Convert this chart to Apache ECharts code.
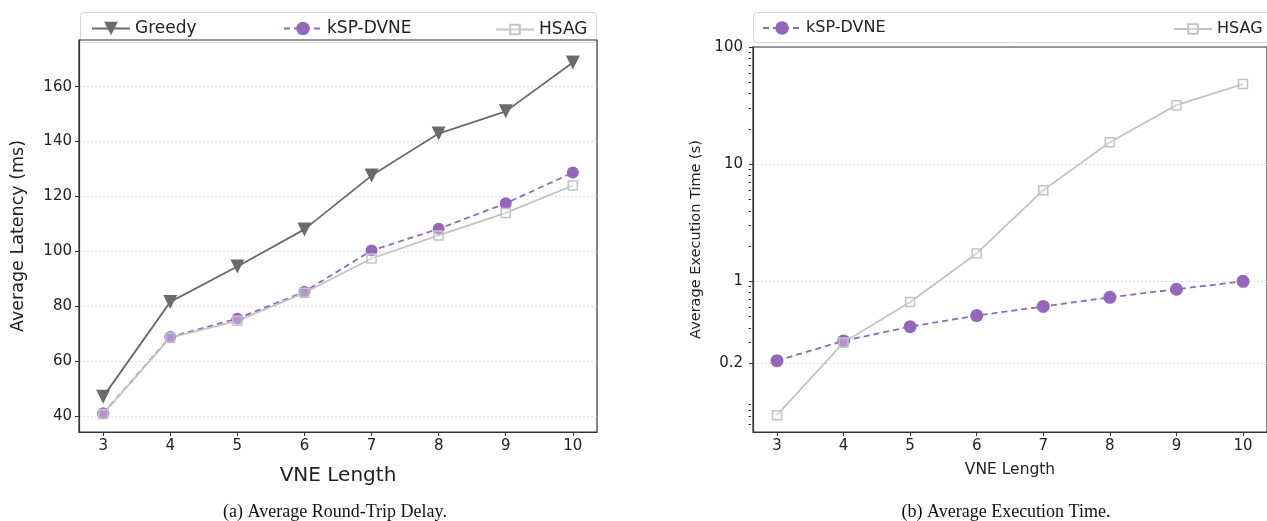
<!DOCTYPE html>
<html>
<head>
<meta charset="utf-8">
<script src="https://cdn.jsdelivr.net/npm/echarts@6/dist/echarts.min.js"></script>
<style>
html,body{margin:0;padding:0;background:#fff;}
#c{width:1267px;height:521px;}
</style>
</head>
<body>
<div id="c"></div>
<script>
// ---- data ----
const vneLength = [3, 4, 5, 6, 7, 8, 9, 10];
const greedyLatency = [47, 81.6, 94.5, 108, 127.6, 142.9, 151, 168.8];
const kspLatency = [41, 68.8, 75.5, 85.3, 100.3, 108.2, 117.5, 128.7];
const hsagLatency = [40.8, 68.6, 74.7, 84.9, 97.4, 105.8, 114, 124];
const kspTime = [0.21, 0.31, 0.41, 0.51, 0.61, 0.73, 0.855, 1.0];
const hsagTime = [0.072, 0.30, 0.665, 1.73, 6.0, 15.4, 31.9, 48.3];
const latencyTicks = [40, 60, 80, 100, 120, 140, 160];
const timeTicks = [0.2, 1, 10, 100];
const timeGridTicks = [0.2, 1, 10];
const timeMinorTicks = [0.06, 0.07, 0.08, 0.09, 0.3, 0.4, 0.5, 0.6, 0.7, 0.8, 0.9,
  2, 3, 4, 5, 6, 7, 8, 9, 20, 30, 40, 50, 60, 70, 80, 90];

const pairs = (ys) => vneLength.map((x, i) => [x, ys[i]]);

const FONT = 'DejaVu Sans';
const AXC = '#333';
const PURPLE = '#9467bd';
const GREEDY = '#6b6b6b';
const HSAG = '#c3c3c3';
const R_LEFT = 753, R_RIGHT = -2;
const R_WIDTH = 1267 - R_RIGHT - R_LEFT;

const chart = echarts.init(document.getElementById('c'), null, {renderer: 'canvas'});

function xAxisCfg(gridIndex, fs, nameFs, nameGap) {
  return {
    type: 'value', gridIndex, min: 2.64, max: 10.36,
    name: 'VNE Length', nameLocation: 'middle', nameGap,
    nameTextStyle: {fontFamily: FONT, fontSize: nameFs, color: '#222'},
    axisLine: {show: true, lineStyle: {color: AXC, width: 1.2}},
    axisTick: {show: true, customValues: vneLength, length: 4, lineStyle: {color: AXC}},
    axisLabel: {customValues: vneLength, fontFamily: FONT, fontSize: fs, color: '#222', margin: 7},
    splitLine: {show: false}
  };
}

const logBase = {type: 'log', gridIndex: 1, min: 0.0517, max: 100, logBase: 10};

const option = {
  animation: false,
  backgroundColor: '#fff',
  grid: [
    {left: 79, right: 670, top: 40, bottom: 89, show: true, borderColor: AXC, borderWidth: 1.2, backgroundColor: 'transparent'},
    {left: R_LEFT, right: R_RIGHT, top: 47, bottom: 89, show: true, borderColor: AXC, borderWidth: 1.2, backgroundColor: 'transparent'}
  ],
  xAxis: [
    xAxisCfg(0, 15, 20, 34),
    xAxisCfg(1, 15, 15.5, 30)
  ],
  yAxis: [
    {
      type: 'value', gridIndex: 0, min: 34.2, max: 177,
      name: 'Average Latency (ms)', nameLocation: 'middle', nameGap: 52,
      nameTextStyle: {fontFamily: FONT, fontSize: 17.5, color: '#222'},
      axisLine: {show: true, lineStyle: {color: AXC, width: 1.2}},
      axisTick: {show: true, customValues: latencyTicks, length: 4, lineStyle: {color: AXC}},
      axisLabel: {customValues: latencyTicks, fontFamily: FONT, fontSize: 15, color: '#222', margin: 7},
      splitLine: {show: true, lineStyle: {color: '#d9d9d9', type: [2, 2], width: 0.8}}
    },
    Object.assign({}, logBase, {
      position: 'left',
      name: 'Average Execution Time (s)', nameLocation: 'middle', nameGap: 49,
      nameTextStyle: {fontFamily: FONT, fontSize: 14.5, color: '#222'},
      axisLine: {show: true, lineStyle: {color: AXC, width: 1.2}},
      axisTick: {show: true, customValues: timeTicks, length: 4, lineStyle: {color: AXC}},
      axisLabel: {customValues: timeTicks, fontFamily: FONT, fontSize: 15, color: '#222', margin: 10,
        formatter: (v) => String(+(+v).toPrecision(3))},
      splitLine: {show: false}
    }),
    Object.assign({}, logBase, {
      position: 'right', offset: -R_WIDTH,
      axisLine: {show: false},
      axisTick: {show: true, inside: true, customValues: timeMinorTicks, length: 2.5, lineStyle: {color: AXC}},
      axisLabel: {show: false},
      splitLine: {show: false}
    }),
    Object.assign({}, logBase, {
      position: 'right', offset: -R_WIDTH,
      axisLine: {show: false},
      axisTick: {show: false, customValues: timeGridTicks},
      axisLabel: {show: false},
      splitLine: {show: true, lineStyle: {color: '#d9d9d9', type: [2, 2], width: 0.8}}
    })
  ],
  legend: [
    {left: 86, top: 15, data: ['Greedy'], itemWidth: 38, itemHeight: 17,
      textStyle: {fontFamily: FONT, fontSize: 17, color: '#222'}},
    {left: 278, top: 15, data: ['kSP-DVNE'], itemWidth: 38, itemHeight: 17,
      textStyle: {fontFamily: FONT, fontSize: 17, color: '#222'}},
    {left: 490, top: 16, data: ['HSAG'], itemWidth: 38, itemHeight: 12,
      textStyle: {fontFamily: FONT, fontSize: 17, color: '#222'}},
    {left: 757, top: 15, data: ['kSP-DVNE'], itemWidth: 38, itemHeight: 17,
      textStyle: {fontFamily: FONT, fontSize: 16, color: '#222'}},
    {left: 1168, top: 16, data: ['HSAG'], itemWidth: 38, itemHeight: 12,
      textStyle: {fontFamily: FONT, fontSize: 16, color: '#222'}}
  ],
  graphic: [
    {type: 'rect', z: -1, shape: {x: 80.5, y: 12.5, width: 516, height: 30, r: 3},
      style: {fill: '#fff', stroke: '#d6d6d6', lineWidth: 1}},
    {type: 'rect', z: -1, shape: {x: 753.5, y: 12.5, width: 530, height: 30, r: 3},
      style: {fill: '#fff', stroke: '#d6d6d6', lineWidth: 1}}
  ],
  title: [
    {text: '(a) Average Round-Trip Delay.', left: 330, top: 498, textAlign: 'center',
      textStyle: {fontFamily: 'Liberation Serif', fontSize: 18, fontWeight: 'normal', color: '#111'}},
    {text: '(b) Average Execution Time.', left: 1001, top: 498, textAlign: 'center',
      textStyle: {fontFamily: 'Liberation Serif', fontSize: 18, fontWeight: 'normal', color: '#111'}}
  ],
  series: [
    {name: 'Greedy', type: 'line', xAxisIndex: 0, yAxisIndex: 0, data: pairs(greedyLatency),
      symbol: 'triangle', symbolRotate: 180, symbolSize: 14,
      lineStyle: {color: GREEDY, width: 1.8}, itemStyle: {color: GREEDY}},
    {name: 'kSP-DVNE', type: 'line', xAxisIndex: 0, yAxisIndex: 0, data: pairs(kspLatency),
      symbol: 'circle', symbolSize: 12,
      lineStyle: {color: PURPLE, width: 1.8, type: [6, 4]}, itemStyle: {color: PURPLE}},
    {name: 'HSAG', type: 'line', xAxisIndex: 0, yAxisIndex: 0, data: pairs(hsagLatency),
      symbol: 'rect', symbolSize: 9,
      lineStyle: {color: HSAG, width: 1.8}, itemStyle: {color: 'rgba(255,255,255,0.3)', borderColor: HSAG, borderWidth: 1.5}},
    {name: 'kSP-DVNE', type: 'line', xAxisIndex: 1, yAxisIndex: 1, data: pairs(kspTime),
      symbol: 'circle', symbolSize: 13,
      lineStyle: {color: PURPLE, width: 1.8, type: [6, 4]}, itemStyle: {color: PURPLE}},
    {name: 'HSAG', type: 'line', xAxisIndex: 1, yAxisIndex: 1, data: pairs(hsagTime),
      symbol: 'rect', symbolSize: 9,
      lineStyle: {color: HSAG, width: 1.8}, itemStyle: {color: 'rgba(255,255,255,0.3)', borderColor: HSAG, borderWidth: 1.5}}
  ]
};
chart.setOption(option);
</script>
</body>
</html>
